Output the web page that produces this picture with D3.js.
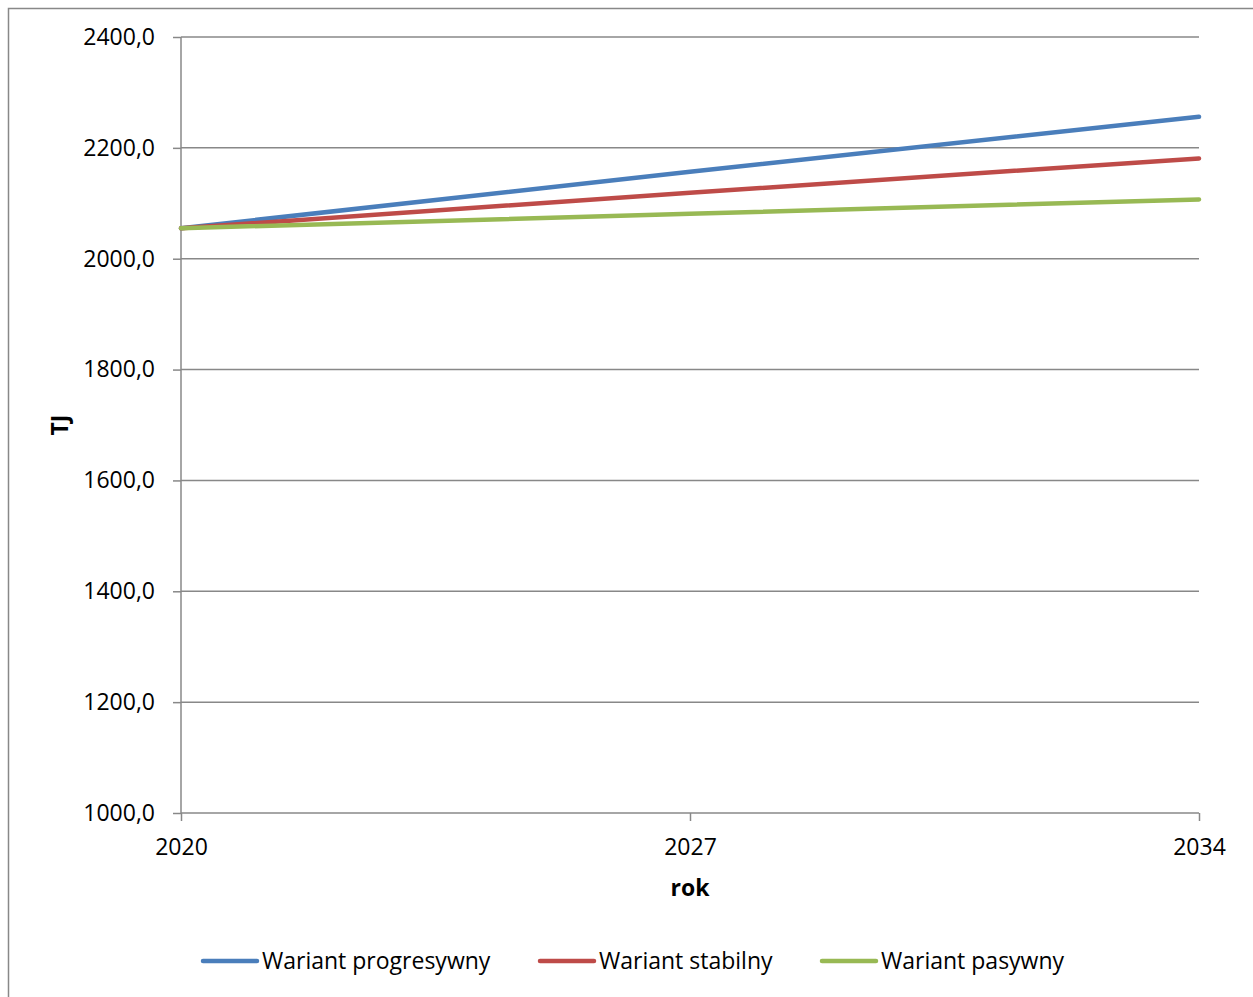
<!DOCTYPE html>
<html><head><meta charset="utf-8">
<script src="https://cdn.jsdelivr.net/npm/d3@7"></script>
<style>body{margin:0;background:#fff}text{font-family:"Open Sans",sans-serif}</style>
</head><body><svg id="c" width="1253" height="997"></svg>
<script>
const years = ["2020", "2027", "2034"];
const yTicks = [1000, 1200, 1400, 1600, 1800, 2000, 2200, 2400];
const progresywny = [2055, 2157, 2256];
const stabilny = [2055, 2119, 2181];
const pasywny = [2055, 2081, 2107];
const seriesNames = ["Wariant progresywny", "Wariant stabilny", "Wariant pasywny"];
const colors = ["#4a7ebb", "#be4b48", "#98b954"];
const series = [progresywny, stabilny, pasywny];

const FS = 23;
const svg = d3.select("#c");
const x = d3.scalePoint().domain(years).range([181, 1199]);
const y = d3.scaleLinear().domain([1000, 2400]).range([813, 37]);

// outer border
svg.append("path").attr("d", "M8.5,997 V8.5 H1253").attr("fill", "none").attr("stroke", "#888").attr("stroke-width", 1.5);

// gridlines
svg.append("g").selectAll("line").data(yTicks.slice(1)).join("line")
  .attr("x1", 181).attr("x2", 1199).attr("y1", d => y(d)).attr("y2", d => y(d))
  .attr("stroke", "#888").attr("stroke-width", 1.5);

const fmt = d => d3.format(".1f")(d).replace(".", ",");
const yAxis = svg.append("g").attr("transform", "translate(181,0)")
  .call(d3.axisLeft(y).tickValues(yTicks).tickFormat(fmt).tickSize(8).tickPadding(18));
const xAxis = svg.append("g").attr("transform", "translate(0,813)")
  .call(d3.axisBottom(x).tickSize(8).tickPadding(18));
[yAxis, xAxis].forEach(a => {
  a.attr("font-size", FS);
  a.select(".domain").attr("stroke", "#888").attr("stroke-width", 1.5);
  a.selectAll(".tick line").attr("stroke", "#888").attr("stroke-width", 1.5);
  a.selectAll("text").attr("font-size", FS).attr("fill", "#000").style("font-family", '"Open Sans",sans-serif');
});
xAxis.select(".domain").attr("d", "M181,0H1199");
yAxis.select(".domain").attr("d", "M0,813V37");

const line = d3.line().x((d, i) => x(years[i])).y(d => y(d));
svg.append("g").selectAll("path").data(series).join("path")
  .attr("d", line).attr("fill", "none").attr("stroke", (d, i) => colors[i])
  .attr("stroke-width", 4.5).attr("stroke-linecap", "round");

svg.append("text").attr("x", 690).attr("y", 896).attr("text-anchor", "middle")
  .attr("font-size", FS).attr("font-weight", "bold").text("rok");
svg.append("text").attr("transform", "translate(68,425) rotate(-90)").attr("text-anchor", "middle")
  .attr("font-size", FS).attr("font-weight", "bold").text("TJ");

const legX = [203, 540, 822];
const leg = svg.append("g").selectAll("g").data(seriesNames).join("g")
  .attr("transform", (d, i) => `translate(${legX[i]},961)`);
leg.append("line").attr("x1", 0).attr("x2", 54).attr("stroke", (d, i) => colors[i])
  .attr("stroke-width", 4.5).attr("stroke-linecap", "round");
leg.append("text").attr("x", 59).attr("y", 8).attr("font-size", FS).text(d => d);
</script></body></html>
